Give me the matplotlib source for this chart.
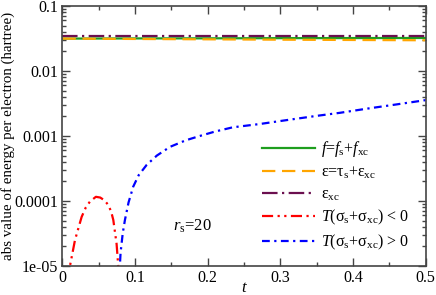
import matplotlib
matplotlib.use("Agg")
import matplotlib.pyplot as plt
from matplotlib.ticker import MultipleLocator, FixedLocator, FixedFormatter, LogLocator, NullFormatter

plt.rcParams['font.family'] = ['Liberation Serif', 'DejaVu Serif']
plt.rcParams['mathtext.fontset'] = 'custom'
plt.rcParams['mathtext.rm'] = 'Liberation Serif'
plt.rcParams['mathtext.it'] = 'Liberation Serif:italic'
plt.rcParams['mathtext.bf'] = 'Liberation Serif:bold'

# data
t_top = [0.0, 0.1, 0.2, 0.3, 0.4, 0.5]
f_vals = [0.0315, 0.0317, 0.0318, 0.0320, 0.0321, 0.0322]
eps_vals = [0.0315, 0.0311, 0.0307, 0.0303, 0.0300, 0.0297]
epsxc_vals = [0.0346, 0.0346, 0.0346, 0.0346, 0.0346, 0.0346]

t_neg = [0.0095, 0.0103, 0.0172, 0.0264, 0.032, 0.0378, 0.046, 0.052, 0.058, 0.063, 0.067, 0.070, 0.0745, 0.0768, 0.0775]
T_neg = [6e-6, 1e-5, 2.5e-5, 5.7e-5, 7.9e-5, 9.8e-5, 1.16e-4, 1.13e-4, 1.02e-4, 8.7e-5, 6.9e-5, 5.1e-5, 2.2e-5, 1e-5, 6e-6]

t_pos = [0.078, 0.080, 0.083, 0.086, 0.091, 0.0974, 0.105, 0.116, 0.13, 0.148, 0.17, 0.189, 0.21,
         0.2345, 0.272, 0.3, 0.35, 0.3817, 0.42, 0.46, 0.5]
T_pos = [6e-6, 1.6e-5, 3.2e-5, 5.1e-5, 9.5e-5, 1.66e-4, 2.5e-4, 3.6e-4, 5.0e-4, 6.8e-4, 8.6e-4, 1.0e-3, 1.17e-3,
         1.36e-3, 1.53e-3, 1.70e-3, 2.04e-3, 2.27e-3, 2.64e-3, 3.06e-3, 3.56e-3]

x_ticks = [0, 0.1, 0.2, 0.3, 0.4, 0.5]
x_ticklabels = ['0', '0.1', '0.2', '0.3', '0.4', '0.5']
y_ticks = [1e-5, 1e-4, 1e-3, 1e-2, 1e-1]
y_ticklabels = ['1e-05', '0.0001', '0.001', '0.01', '0.1']

labels = [r'$f$=$f_{\rm s}$+$f_{\rm xc}$',
          'ε=τ$_{\\rm s}$+ε$_{\\rm xc}$',
          'ε$_{\\rm xc}$',
          r'$T$(σ$_{\rm s}$+σ$_{\rm xc}$) < 0',
          r'$T$(σ$_{\rm s}$+σ$_{\rm xc}$) > 0']

fig = plt.figure(figsize=(4.36, 2.95), dpi=100)
ax = fig.add_axes([0.1433, 0.0983, 0.8327, 0.8814])

ax.plot(t_top, f_vals, color='#1e9e1e', lw=1.6, ls='-', label=labels[0])
ax.plot(t_top, eps_vals, color='#ffa500', lw=1.6, ls=(0, (6, 3)), label=labels[1])
ax.plot(t_top, epsxc_vals, color='#6b0f4f', lw=1.6, ls=(0, (7, 2, 1, 2)), label=labels[2])
ax.plot(t_neg, T_neg, color='#ff0000', lw=1.6, ls=(0, (5, 2, 1, 2, 1, 2)), label=labels[3])
ax.plot(t_pos, T_pos, color='#0000ff', lw=1.6, ls=(0, (3.5, 2, 1, 2)), label=labels[4])

ax.set_yscale('log')
ax.set_xlim(0, 0.5)
ax.set_ylim(1e-5, 0.1)

ax.xaxis.set_major_locator(FixedLocator(x_ticks))
ax.xaxis.set_major_formatter(FixedFormatter(x_ticklabels))
ax.xaxis.set_minor_locator(MultipleLocator(0.05))
ax.yaxis.set_major_locator(FixedLocator(y_ticks))
ax.yaxis.set_major_formatter(FixedFormatter(y_ticklabels))
ax.yaxis.set_minor_locator(LogLocator(base=10, subs=range(2, 10)))
ax.yaxis.set_minor_formatter(NullFormatter())

ax.tick_params(which='both', direction='in', top=True, right=True, labelsize=11.5, color='#444444', pad=3)
ax.tick_params(which='major', length=6, width=1)
ax.tick_params(which='minor', length=3, width=1)
for s in ax.spines.values():
    s.set_linewidth(1.2)
    s.set_color('#444444')

ax.set_xlabel(r'$t$', fontsize=12, va='baseline')
ax.xaxis.set_label_coords(0.5, -0.1)
ax.set_ylabel('abs value of energy per electron (hartree)', fontsize=10.8)
ax.yaxis.set_label_coords(-0.131, 0.5)

ax.text(0.152, 3.5e-5, r'$r_{\rm s}$=20', fontsize=12)

leg = ax.legend(loc='lower right', bbox_to_anchor=(0.985, 0.012), frameon=False, fontsize=11.5,
                handlelength=3.3, handletextpad=0.35, labelspacing=0.33, borderaxespad=0.3)

fig.savefig('out.png', dpi=100)
